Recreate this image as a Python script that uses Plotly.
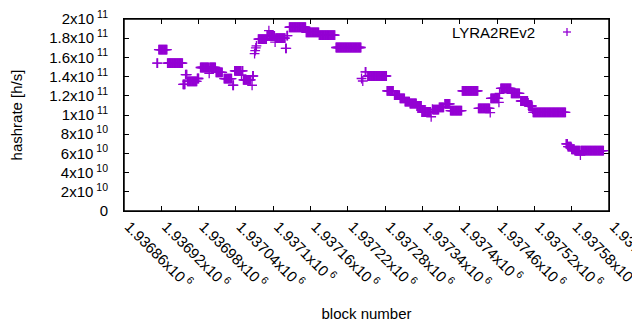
import plotly.graph_objects as go

# Runs of constant hashrate: start block, end block, hashrate (x1e9 h/s)
seg_start = [1936913, 1936916, 1936930, 1936955, 1936959, 1936962, 1936978, 1936983, 1936997, 1936998,
             1937008, 1937021, 1937035, 1937038, 1937049, 1937050, 1937052, 1937066, 1937067, 1937070,
             1937071, 1937072, 1937073, 1937076, 1937090, 1937093, 1937094, 1937103, 1937104, 1937120,
             1937122, 1937126, 1937153, 1937174, 1937201, 1937242, 1937244, 1937248, 1937252, 1937283,
             1937295, 1937304, 1937312, 1937320, 1937331, 1937339, 1937354, 1937356, 1937357, 1937367,
             1937376, 1937385, 1937404, 1937430, 1937449, 1937450, 1937463, 1937464, 1937466, 1937483,
             1937498, 1937510, 1937511, 1937517, 1937518, 1937571, 1937574, 1937580, 1937585, 1937594,
             1937595]
seg_end = [1936914, 1936929, 1936954, 1936958, 1936961, 1936977, 1936980, 1936996, 1936997, 1937007,
           1937018, 1937033, 1937036, 1937048, 1937049, 1937051, 1937064, 1937066, 1937068, 1937070,
           1937071, 1937072, 1937073, 1937089, 1937092, 1937093, 1937102, 1937103, 1937119, 1937121,
           1937123, 1937152, 1937173, 1937199, 1937241, 1937242, 1937244, 1937249, 1937282, 1937293,
           1937303, 1937311, 1937319, 1937330, 1937338, 1937353, 1937354, 1937356, 1937366, 1937374,
           1937384, 1937403, 1937429, 1937448, 1937449, 1937462, 1937463, 1937464, 1937482, 1937496,
           1937509, 1937510, 1937516, 1937517, 1937570, 1937573, 1937579, 1937584, 1937593, 1937594,
           1937631]
seg_value_g = [154, 168, 154, 132, 142, 135, 138, 149.5, 143.5, 149.5,
               144.5, 137.8, 131, 146, 141.7, 146, 136.5, 131, 140.6, 164,
               167, 170, 172, 179, 182.3, 187.8, 182.3, 176, 180, 169.5,
               182.6, 191.4, 186, 183.2, 170.3, 138, 135.4, 145, 140.6, 125.2,
               120.8, 117.4, 114, 112, 109.4, 103.1, 98.2, 106, 105.5, 108,
               111.5, 104.5, 125.2, 107, 102.4, 117.4, 113.2, 122.6, 127.8, 122.6,
               114.6, 112.5, 109.4, 106.2, 102.8, 70, 67, 64.3, 62.8, 58.3,
               62.8]

x_tick_vals = [1936860 + 60 * i for i in range(14)]
x_tick_text = ["1.93686x10<sup> 6</sup>", "1.93692x10<sup> 6</sup>", "1.93698x10<sup> 6</sup>",
               "1.93704x10<sup> 6</sup>", "1.9371x10<sup> 6</sup>", "1.93716x10<sup> 6</sup>",
               "1.93722x10<sup> 6</sup>", "1.93728x10<sup> 6</sup>", "1.93734x10<sup> 6</sup>",
               "1.9374x10<sup> 6</sup>", "1.93746x10<sup> 6</sup>", "1.93752x10<sup> 6</sup>",
               "1.93758x10<sup> 6</sup>", "1.9376x10<sup> 6</sup>"]
y_tick_vals = [0, 2e10, 4e10, 6e10, 8e10, 1e11, 1.2e11, 1.4e11, 1.6e11, 1.8e11, 2e11]
y_tick_text = ["0", "2x10<sup> 10</sup>", "4x10<sup> 10</sup>", "6x10<sup> 10</sup>", "8x10<sup> 10</sup>",
               "1x10<sup> 11</sup>", "1.2x10<sup> 11</sup>", "1.4x10<sup> 11</sup>", "1.6x10<sup> 11</sup>",
               "1.8x10<sup> 11</sup>", "2x10<sup> 11</sup>"]

blocks, rates = [], []
for s, e, v in zip(seg_start, seg_end, seg_value_g):
    for b in range(s, e + 1):
        blocks.append(b)
        rates.append(v * 1e9)

color = "#9400D3"
font = "Liberation Sans, Arial, sans-serif"

fig = go.Figure()
fig.add_trace(go.Scatter(
    x=blocks, y=rates, mode="markers", name="LYRA2REv2", showlegend=False,
    marker=dict(symbol="cross-thin", size=7, line=dict(color=color, width=1.3), color=color),
))

axis_common = dict(showgrid=False, zeroline=False, showline=True, linecolor="#000000", linewidth=1,
                   mirror="ticks", ticks="inside", ticklen=5, tickcolor="#000000", tickwidth=1,
                   automargin=False, ticklabeloverflow="allow",
                   tickfont=dict(family=font, size=15, color="black"))

fig.update_xaxes(range=[1936860, 1937640], tickvals=x_tick_vals, ticktext=x_tick_text,
                 tickangle=45, ticklabelshift=5,
                 title=dict(text="block number", font=dict(family=font, size=15, color="black"),
                            standoff=23), **axis_common)
fig.update_yaxes(range=[0, 2e11], tickvals=y_tick_vals, ticktext=y_tick_text, ticklabelstandoff=12,
                 title=dict(text="hashrate [h/s]", font=dict(family=font, size=15, color="black"),
                            standoff=23), **axis_common)

# plot frame, drawn in paper space so it is not clipped by the plot area
fig.add_shape(type="rect", xref="paper", yref="paper", x0=0, x1=1, y0=0, y1=1,
              line=dict(color="black", width=1.5), layer="above")

# legend key (gnuplot style: text then sample)
lx, ly = (567 - 124) / 485, (211 - 32) / 192
fig.add_annotation(xref="paper", yref="paper", x=(537 - 124) / 485, y=ly, xanchor="right", yanchor="middle",
                   text="LYRA2REv2", showarrow=False, font=dict(family=font, size=15, color="black"))
fig.add_shape(type="line", xref="paper", yref="paper", x0=lx - 4 / 485, x1=lx + 4 / 485, y0=ly, y1=ly,
              line=dict(color=color, width=1.3))
fig.add_shape(type="line", xref="paper", yref="paper", x0=lx, x1=lx, y0=ly - 4 / 192, y1=ly + 4 / 192,
              line=dict(color=color, width=1.3))

# page body has an 8px margin: shift figure margins to keep the plot frame in place
fig.update_layout(width=624, height=314, margin=dict(l=116, r=23, t=11, b=111),
                  template="none", plot_bgcolor="white", paper_bgcolor="white",
                  font=dict(family=font, size=15, color="black"))

fig.write_html("out.html")
